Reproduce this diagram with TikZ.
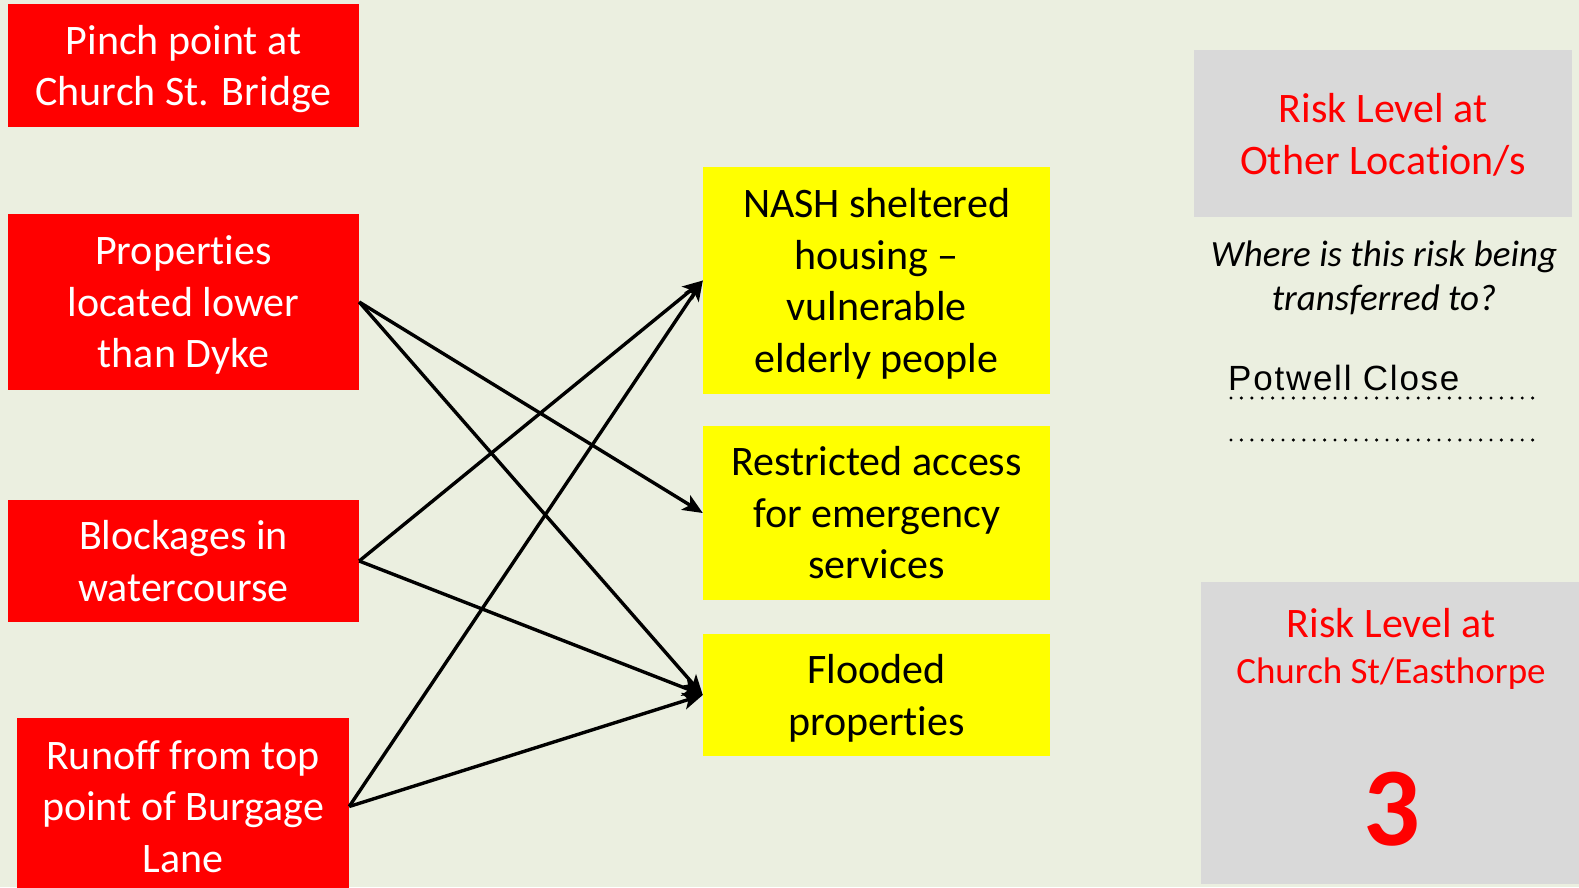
\documentclass[tikz,border=0pt]{standalone}
\usepackage{fontspec}
\setmainfont[Ligatures=NoCommon]{Carlito}
\newfontfamily\arialf[LetterSpace=5]{Liberation Sans}
\usetikzlibrary{arrows.meta}
\definecolor{bg}{HTML}{EBEFE0}
\definecolor{rd}{HTML}{FF0000}
\definecolor{yl}{HTML}{FFFF00}
\definecolor{gr}{HTML}{D9D9D9}
\newcommand\nodp[1]{\raisebox{0pt}[\height][0pt]{#1}}
\begin{document}
\begin{tikzpicture}[x=1pt,y=-1pt,
  box/.style={rectangle, inner sep=0pt, align=center, font=\fontsize{42}{51.5}\selectfont},
  causebox/.style={box, fill=rd, text=white},
  effectbox/.style={box, fill=yl, text=black},
  greybox/.style={rectangle, inner sep=0pt, fill=gr},
  redtext/.style={inner sep=0pt, align=center, text=rd},
  dotline/.style={line width=3.4pt, line cap=round, dash pattern=on 0pt off 10.4pt},
  link/.style={line width=3.4pt, -{Stealth[length=20pt,width=17pt,inset=5pt]}}]
\fill[bg] (0,0) rectangle (1579,887);
\useasboundingbox (0,0) rectangle (1579,887);
\clip (0,0) rectangle (1579,887);

% causes
\node[causebox, minimum width=351pt, minimum height=123pt] (a) at (183.5,65.5) {Pinch point at\\\nodp{Church St. Bridge}};
\node[causebox, minimum width=351pt, minimum height=176pt] (b) at (183.5,302) {Properties\\located lower\\\nodp{than Dyke}};
\node[causebox, minimum width=351pt, minimum height=122pt] (c) at (183.5,561) {Blockages in\\watercourse};
\node[causebox, minimum width=332pt, minimum height=177pt] (d) at (183,806.5) {Runoff from top\\point of Burgage\\Lane};

% effects
\node[effectbox, minimum width=347pt, minimum height=227pt] (y1) at (876.5,280.5) {NASH sheltered\\housing --\\vulnerable\\\nodp{elderly people}};
\node[effectbox, minimum width=347pt, minimum height=174pt] (y2) at (876.5,513) {Restricted access\\for emergency\\services};
\node[effectbox, minimum width=347pt, minimum height=122pt] (y3) at (876.5,695) {Flooded\\\nodp{properties}};

% connectors
\draw[link] (b.east) -- (y2.west);
\draw[link] (b.east) -- (y3.west);
\draw[link] (c.east) -- (y1.west);
\draw[link] (c.east) -- (y3.west);
\draw[link] (d.east) -- (y1.west);
\draw[link] (d.east) -- (y3.west);

% right panel
\node[greybox, redtext, minimum width=378pt, minimum height=167pt, font=\fontsize{42}{52}\selectfont] (g1) at (1383,133.5) {Risk Level at\\\nodp{Other Location/s}};
\node[inner sep=0pt, align=center, font=\fontsize{37}{44}\selectfont\itshape] (q) at (1384,276) {Where is this risk being\\\nodp{transferred to?}};
\node[inner sep=0pt, anchor=base west, font=\fontsize{35}{40}\arialf] (pc) at (1228,390) {Potwell Close};
\coordinate (d1s) at (1231,398);
\coordinate (d1e) at (1533,398);
\coordinate (d2s) at (1231,440);
\coordinate (d2e) at (1533,440);
\draw[dotline] (d1s) -- (d1e);
\draw[dotline] (d2s) -- (d2e);

\node[greybox, minimum width=390pt, minimum height=302pt, anchor=north west] (g2) at (1201,582) {};
\node[redtext, font=\fontsize{42}{48}\selectfont] (t1) at (1391,623) {Risk Level at};
\node[redtext, font=\fontsize{37}{44}\selectfont] (t2) at (1391,671) {\nodp{Church St/Easthorpe}};
\node[redtext, font=\fontsize{112}{112}\selectfont\bfseries] (n3) at (1392,809) {3};
\end{tikzpicture}
\end{document}
